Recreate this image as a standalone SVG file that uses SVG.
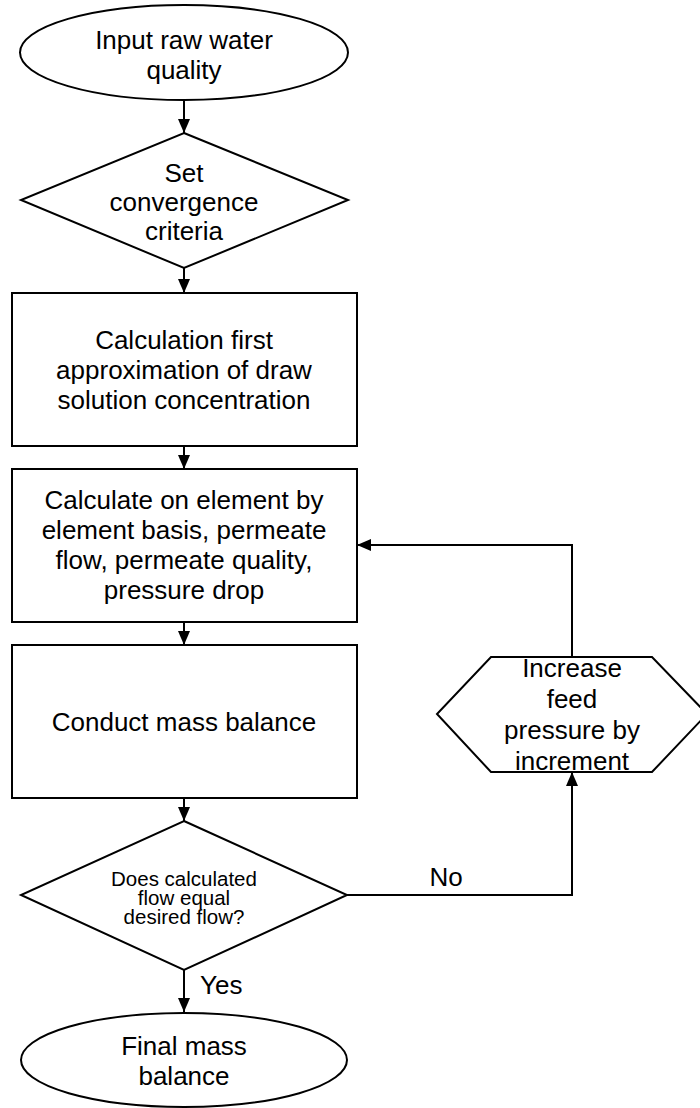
<svg xmlns="http://www.w3.org/2000/svg" width="700" height="1108" viewBox="0 0 700 1108">
<style>
.s{fill:#fff;stroke:#000;stroke-width:2}
.t{font-family:"Liberation Sans",Arial,sans-serif;font-size:26px;fill:#000;text-anchor:middle}
.sm{font-size:20.5px}
.c{fill:none;stroke:#000;stroke-width:2}
</style>
<defs>
<marker id="ah" viewBox="0 0 14 12" refX="14" refY="6" markerWidth="14" markerHeight="12" markerUnits="userSpaceOnUse" orient="auto">
<path d="M0,0 L14,6 L0,12 Z" fill="#000"/>
</marker>
</defs>
<rect width="700" height="1108" fill="#fff"/>
<g id="connectors">
<line class="c" x1="184" y1="100" x2="184" y2="133" marker-end="url(#ah)"/>
<line class="c" x1="184" y1="268" x2="184" y2="293" marker-end="url(#ah)"/>
<line class="c" x1="184" y1="446" x2="184" y2="469" marker-end="url(#ah)"/>
<line class="c" x1="184" y1="622" x2="184" y2="645" marker-end="url(#ah)"/>
<line class="c" x1="184" y1="798" x2="184" y2="821" marker-end="url(#ah)"/>
<line class="c" x1="184" y1="970" x2="184" y2="1012" marker-end="url(#ah)"/>
<polyline class="c" points="347,895 572,895 572,772" marker-end="url(#ah)"/>
<polyline class="c" points="572,657 572,545 357,545" marker-end="url(#ah)"/>
<text class="t" x="446" y="886">No</text>
<text class="t" x="200" y="994" style="text-anchor:start">Yes</text>
</g>
<g id="start">
<ellipse class="s" cx="184" cy="52.5" rx="164" ry="47.5"/>
<text class="t" x="184" y="49">Input raw water</text>
<text class="t" x="184" y="79">quality</text>
</g>
<g id="convergence">
<polygon class="s" points="184,133 348,200 184,268 21,200"/>
<text class="t" x="184" y="182">Set</text>
<text class="t" x="184" y="211">convergence</text>
<text class="t" x="184" y="240">criteria</text>
</g>
<g id="first-approx">
<rect class="s" x="12" y="293" width="345" height="153"/>
<text class="t" x="184" y="349">Calculation first</text>
<text class="t" x="184" y="379">approximation of draw</text>
<text class="t" x="184" y="409">solution concentration</text>
</g>
<g id="calculate">
<rect class="s" x="12" y="469" width="345" height="153"/>
<text class="t" x="184" y="509">Calculate on element by</text>
<text class="t" x="184" y="539">element basis, permeate</text>
<text class="t" x="184" y="569">flow, permeate quality,</text>
<text class="t" x="184" y="599">pressure drop</text>
</g>
<g id="mass-balance">
<rect class="s" x="12" y="645" width="345" height="153"/>
<text class="t" x="184" y="731">Conduct mass balance</text>
</g>
<g id="decision">
<polygon class="s" points="184,821 347,895 184,970 21,895"/>
<text class="t sm" x="184" y="886">Does calculated</text>
<text class="t sm" x="184" y="905">flow equal</text>
<text class="t sm" x="184" y="924">desired flow?</text>
</g>
<g id="increase">
<polygon class="s" points="491,657 652,657 707,714 652,772 491,772 437,714"/>
<text class="t" x="572" y="677">Increase</text>
<text class="t" x="572" y="708">feed</text>
<text class="t" x="572" y="739">pressure by</text>
<text class="t" x="572" y="770">increment</text>
</g>
<g id="final">
<ellipse class="s" cx="184" cy="1060" rx="163" ry="47"/>
<text class="t" x="184" y="1055">Final mass</text>
<text class="t" x="184" y="1085">balance</text>
</g>
</svg>
